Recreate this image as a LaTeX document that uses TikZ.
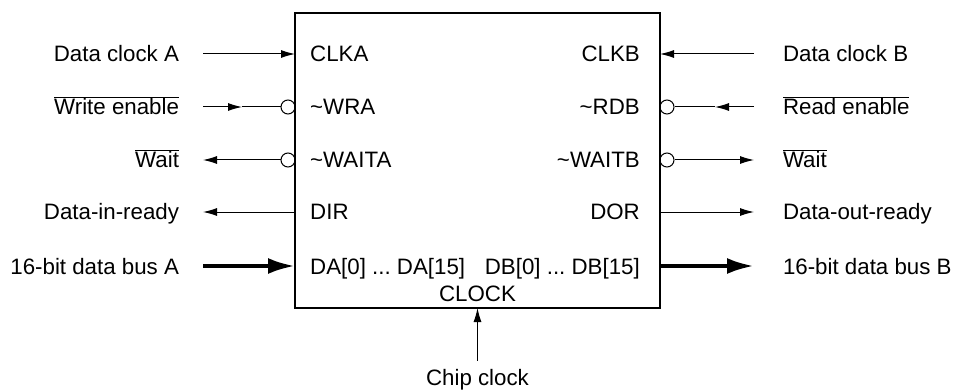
\documentclass[tikz,border=0pt]{standalone}
\usepackage{fontspec}
\setmainfont{Liberation Sans}
\usetikzlibrary{arrows.meta,positioning}
\begin{document}
\begin{tikzpicture}[
    x=1pt, y=1pt,
    font=\fontsize{22.3}{27}\selectfont,
    chip/.style={rectangle, draw, line width=1.3pt, minimum width=365pt, minimum height=295pt, inner sep=0pt},
    inlbl/.style={inner sep=0pt, text height=16pt, text depth=0pt},
    extl/.style={anchor=east, inner sep=0pt, outer xsep=24pt, text height=16pt, text depth=0pt},
    extr/.style={anchor=west, inner sep=0pt, outer xsep=29pt, text height=16pt, text depth=0pt},
    bubble/.style={circle, draw, line width=1pt, minimum size=14pt, inner sep=0pt},
    wire/.style={line width=1pt},
    arrow/.style={line width=1pt, -{Latex[length=14pt,width=8pt]}},
    bus/.style={line width=4pt, -{Latex[length=27pt,width=16pt]}}
]
    \useasboundingbox (0,0) rectangle (962,389);

    \node[chip] (fifo) at (477.5,228.5) {};

    % pins on the box
    \coordinate (pclka) at (295,335);
    \coordinate (pdir) at (295,177);
    \coordinate (pda) at (295,123);
    \coordinate (pclkb) at (660,335);
    \coordinate (pdor) at (660,177);
    \coordinate (pdb) at (660,123);
    \coordinate (pclk) at (477.5,81);

    % inside labels
    \node[inlbl, anchor=west] (clka) at (310,335) {CLKA};
    \node[inlbl, anchor=west] (wra) at (310,282) {\char`~WRA};
    \node[inlbl, anchor=west] (waita) at (310,229) {\char`~WAITA};
    \node[inlbl, anchor=west] (dir) at (310,177) {DIR};
    \node[inlbl, anchor=west] (da) at (310,123) {DA[0]~...~DA[15]};
    \node[inlbl, anchor=east] (clkb) at (640,335) {CLKB};
    \node[inlbl, anchor=east] (rdb) at (640,282) {\char`~RDB};
    \node[inlbl, anchor=east] (waitb) at (640,229) {\char`~WAITB};
    \node[inlbl, anchor=east] (dor) at (640,177) {DOR};
    \node[inlbl, anchor=east] (db) at (640,123) {DB[0]~...~DB[15]};
    \node[inlbl] (clock) at (477.5,96) {CLOCK};

    % inverting bubbles
    \node[bubble] (bwra) at (288,282) {};
    \node[bubble] (bwaita) at (288,229) {};
    \node[bubble] (brdb) at (667,282) {};
    \node[bubble] (bwaitb) at (667,229) {};

    % outside labels
    \node[extl] (dca) at (203,335) {Data clock A};
    \node[extl] (wre) at (203,282) {$\overline{\mbox{Write enable}}$};
    \node[extl] (waitl) at (203,229) {$\overline{\mbox{Wait}}$};
    \node[extl] (dirl) at (203,177) {Data-in-ready};
    \node[extl] (busa) at (203,123) {16-bit data bus A};
    \node[extr] (dcb) at (754,335) {Data clock B};
    \node[extr] (rde) at (754,282) {$\overline{\mbox{Read enable}}$};
    \node[extr] (waitr) at (754,229) {$\overline{\mbox{Wait}}$};
    \node[extr] (dorl) at (754,177) {Data-out-ready};
    \node[extr] (busb) at (754,123) {16-bit data bus B};
    \node[inlbl, outer ysep=9pt] (cclk) at (477.5,11.5) {Chip clock};

    \coordinate (mwre) at (242,282);
    \coordinate (mrde) at (715,282);

    % connectors
    \draw[arrow] (dca) -- (pclka);
    \draw[arrow] (wre) -- (mwre);
    \draw[wire] (mwre) -- (bwra);
    \draw[arrow] (bwaita) -- (waitl);
    \draw[arrow] (pdir) -- (dirl);
    \draw[bus] (busa) -- (pda);
    \draw[arrow] (dcb) -- (pclkb);
    \draw[arrow] (rde) -- (mrde);
    \draw[wire] (mrde) -- (brdb);
    \draw[arrow] (bwaitb) -- (waitr);
    \draw[arrow] (pdor) -- (dorl);
    \draw[bus] (pdb) -- (busb);
    \draw[arrow] (cclk) -- (pclk);
\end{tikzpicture}
\end{document}
